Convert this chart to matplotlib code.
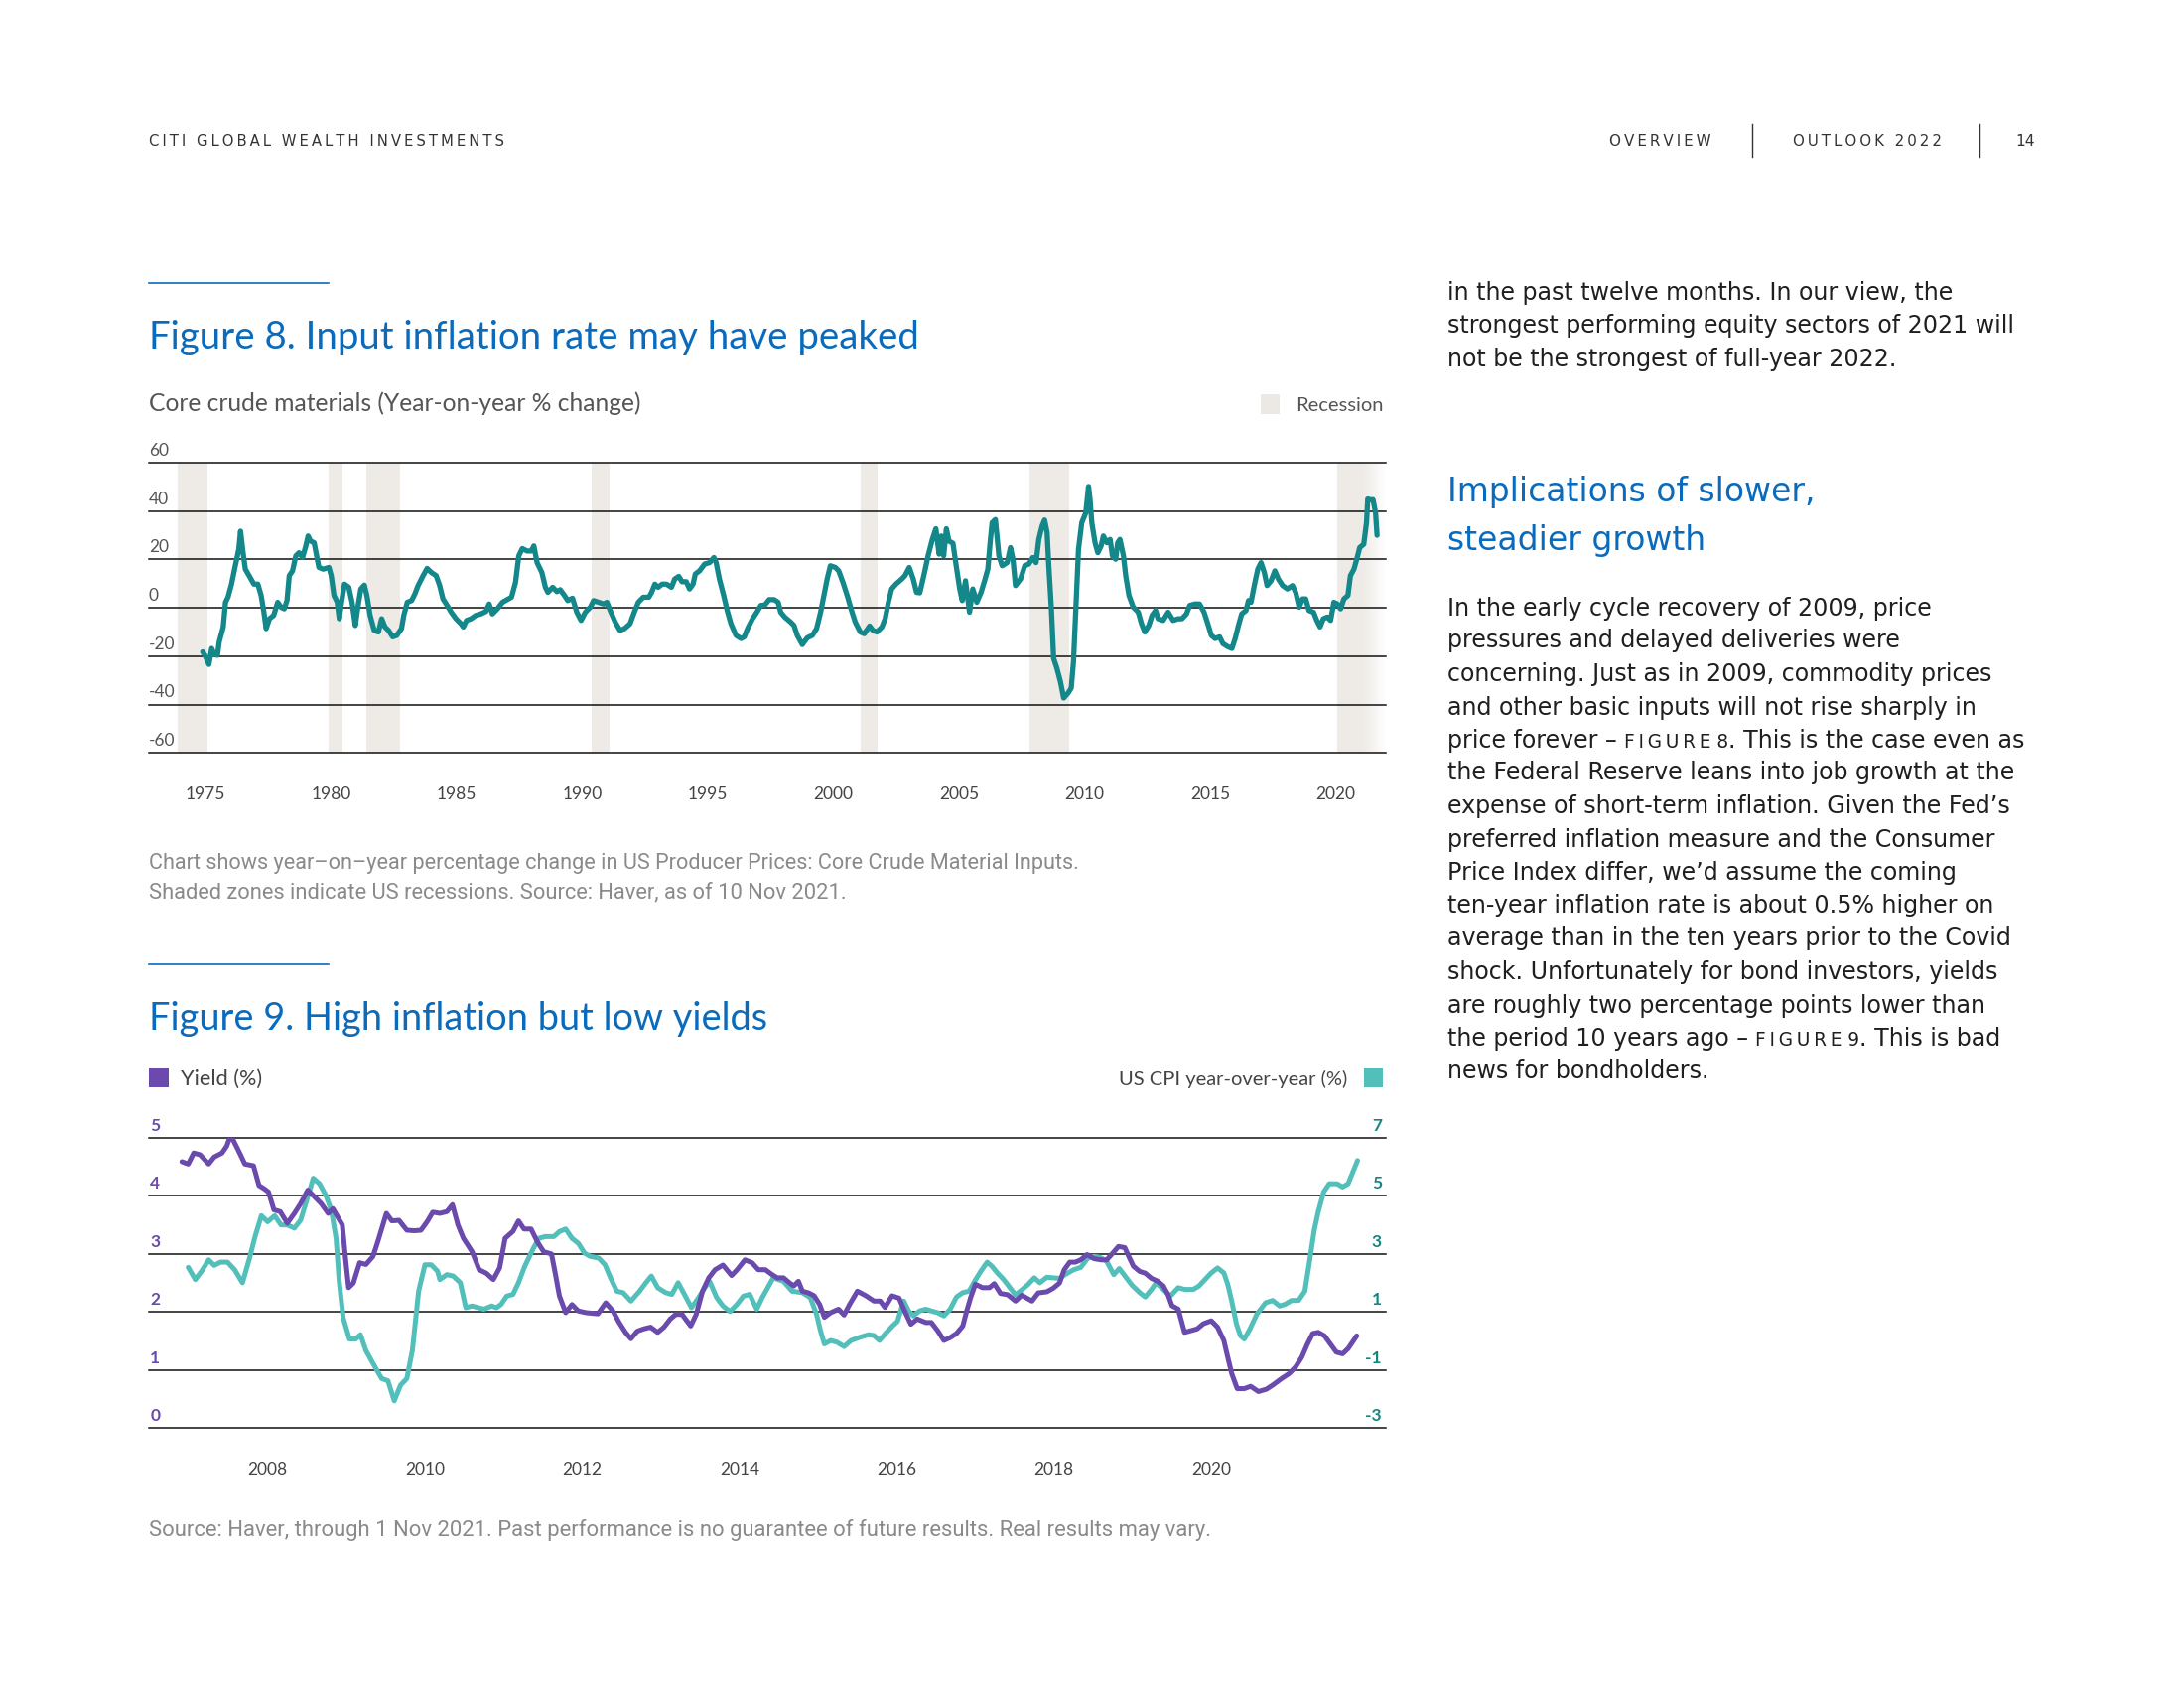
import matplotlib
matplotlib.use("Agg")
import matplotlib.pyplot as plt
from matplotlib.patches import Rectangle
from matplotlib.lines import Line2D
from matplotlib import font_manager

# ---------------- DATA ----------------
# Figure 8: Core crude materials, year-on-year % change
cc_years = [1974.88, 1974.97, 1975.13, 1975.24, 1975.34, 1975.47, 1975.54, 1975.70, 1975.79, 1975.89,
            1976.03, 1976.18, 1976.32, 1976.39, 1976.49, 1976.58, 1976.72, 1976.92, 1977.08, 1977.21,
            1977.32, 1977.41, 1977.54, 1977.71, 1977.87, 1978.00, 1978.13, 1978.24, 1978.33, 1978.46,
            1978.59, 1978.72, 1978.86, 1978.99, 1979.08, 1979.18, 1979.32, 1979.42, 1979.51, 1979.68,
            1979.91, 1980.00, 1980.11, 1980.24, 1980.32, 1980.41, 1980.53, 1980.70, 1980.83, 1980.96,
            1981.05, 1981.18, 1981.32, 1981.42, 1981.55, 1981.71, 1981.88, 1982.01, 1982.14, 1982.28,
            1982.45, 1982.61, 1982.80, 1982.89, 1983.03, 1983.20, 1983.33, 1983.46, 1983.66, 1983.82,
            1983.99, 1984.18, 1984.32, 1984.45, 1984.58, 1984.78, 1984.97, 1985.17, 1985.26, 1985.39,
            1985.57, 1985.76, 1985.96, 1986.16, 1986.29, 1986.42, 1986.62, 1986.82, 1987.01, 1987.18,
            1987.34, 1987.47, 1987.61, 1987.80, 1987.97, 1988.07, 1988.20, 1988.39, 1988.53, 1988.63,
            1988.82, 1988.99, 1989.12, 1989.29, 1989.42, 1989.61, 1989.78, 1989.95,
            1990.12, 1990.32, 1990.45, 1990.65, 1990.85, 1990.98, 1991.11, 1991.31, 1991.50, 1991.68,
            1991.90, 1992.07, 1992.23, 1992.43, 1992.65, 1992.76, 1992.89, 1993.02, 1993.18, 1993.35,
            1993.55, 1993.68, 1993.84, 1993.97, 1994.14, 1994.27, 1994.41, 1994.50, 1994.67, 1994.87,
            1995.07, 1995.24, 1995.33, 1995.46, 1995.63, 1995.77, 1995.92, 1996.12, 1996.32, 1996.45,
            1996.58, 1996.78, 1996.95, 1997.11, 1997.27, 1997.44, 1997.64, 1997.80, 1997.90, 1998.06,
            1998.30, 1998.43, 1998.56, 1998.76, 1998.96, 1999.16, 1999.33, 1999.49, 1999.62, 1999.75,
            1999.88, 2000.08, 2000.21, 2000.38, 2000.57, 2000.70, 2000.87, 2001.07, 2001.23, 2001.44,
            2001.57, 2001.73, 2001.93, 2002.06, 2002.19, 2002.32, 2002.49, 2002.72, 2002.85, 2003.02,
            2003.18, 2003.31, 2003.44, 2003.60, 2003.77, 2003.94, 2004.08, 2004.21, 2004.30, 2004.39,
            2004.50, 2004.60, 2004.76, 2004.89, 2005.03, 2005.13, 2005.26, 2005.42, 2005.55, 2005.71,
            2005.88, 2006.02, 2006.15, 2006.24, 2006.32, 2006.45,
            2006.59, 2006.72, 2006.92, 2007.05, 2007.15, 2007.25, 2007.45, 2007.62, 2007.78, 2007.94,
            2008.07, 2008.18, 2008.31, 2008.41, 2008.51, 2008.57, 2008.68, 2008.77, 2008.90, 2009.04,
            2009.17, 2009.34, 2009.47, 2009.56, 2009.66, 2009.76, 2009.89, 2010.05, 2010.16, 2010.22,
            2010.29, 2010.42, 2010.53, 2010.66, 2010.75, 2010.89, 2011.02, 2011.11, 2011.24, 2011.32,
            2011.41, 2011.55, 2011.64, 2011.77, 2011.94, 2012.14, 2012.27, 2012.40, 2012.56, 2012.69,
            2012.83, 2012.93, 2013.13, 2013.33, 2013.53, 2013.73, 2013.88, 2014.06, 2014.19, 2014.39,
            2014.58, 2014.76, 2014.91, 2015.05, 2015.20, 2015.38, 2015.51, 2015.71, 2015.87, 2016.00,
            2016.13, 2016.26, 2016.43, 2016.53, 2016.63, 2016.76, 2016.90, 2017.03, 2017.16, 2017.27,
            2017.43, 2017.58, 2017.72, 2017.89, 2018.08, 2018.28, 2018.41, 2018.55, 2018.68, 2018.81,
            2018.94, 2019.12, 2019.25, 2019.38, 2019.51, 2019.67, 2019.80, 2019.93, 2020.07, 2020.20,
            2020.33, 2020.49, 2020.59, 2020.73, 2020.86, 2020.96, 2021.12, 2021.23, 2021.28, 2021.38,
            2021.49, 2021.59, 2021.65]
cc_values = [-18.2, -19.6, -23.4, -16.8, -19.3, -19.6, -14.1, -7.9, 2.3, 4.4,
             9.8, 17.4, 24.2, 31.7, 22.8, 16.0, 13.5, 9.8, 9.8, 5.1,
             -1.8, -8.6, -4.5, -3.1, 2.3, 0.3, -0.4, 3.0, 13.3, 15.3,
             21.5, 22.8, 20.8, 25.6, 29.7, 27.6, 26.9, 21.5, 16.7, 16.0,
             16.7, 13.3, 5.1, 2.3, -4.5, 2.3, 9.8, 8.5, 2.3, -7.3,
             -0.4, 7.8, 9.4, 5.1, -3.1, -9.3, -10.0, -4.5, -7.9, -9.3,
             -12.0, -11.4, -8.6, -3.1, 2.3, 3.0, 5.7, 9.2, 13.3, 16.3,
             14.6, 13.3, 9.2, 3.7, 1.6, -1.8, -4.5, -6.6, -7.9, -5.2,
             -4.5, -3.1, -2.5, -1.5, 1.6, -2.5, -0.4, 2.3, 3.4, 4.4,
             10.5, 21.5, 24.5, 23.5, 23.5, 25.6, 18.7, 14.6, 8.5, 6.4,
             8.5, 6.7, 7.5, 5.1, 3.0, 4.0, -1.8, -5.2,
             -1.8, 0.3, 3.0, 2.3, 1.6, 2.3, -1.1, -5.9, -9.3, -8.6,
             -6.6, -1.8, 2.3, 4.4, 4.4, 6.4, 9.8, 8.5, 9.8, 9.8,
             8.5, 11.9, 13.0, 10.8, 10.8, 7.8, 9.8, 14.0, 15.3, 18.1,
             18.7, 20.8, 18.7, 11.9, 5.1, -1.1, -6.6, -11.4, -12.7, -12.0,
             -8.6, -4.5, -1.8, 1.0, 1.2, 3.4, 3.4, 2.3, -1.8, -3.8,
             -5.9, -7.3, -11.4, -15.2, -12.4, -11.4, -8.6, -1.8, 5.1, 11.9,
             17.4, 16.7, 15.3, 10.5, 4.4, -0.4, -5.9, -10.0, -10.7, -7.5,
             -9.3, -10.0, -7.9, -4.5, 2.3, 7.8, 9.8, 11.9, 13.3, 16.7,
             11.9, 6.4, 6.2, 13.3, 21.5, 28.3, 32.7, 22.2, 29.7, 21.5,
             32.7, 27.6, 26.7, 17.4, 7.8, 3.0, 11.2, -1.8, 7.8, 2.3,
             6.4, 11.2, 16.0, 26.9, 35.2, 36.5,
             21.5, 17.4, 18.7, 24.9, 20.1, 9.2, 11.9, 17.4, 18.1, 20.8,
             18.7, 28.3, 33.8, 36.3, 31.1, 18.7, -0.4, -20.9, -25.0, -30.5,
             -37.3, -35.3, -33.2, -22.3, 1.0, 24.2, 35.2, 39.3, 50.2, 44.7,
             35.2, 26.9, 22.8, 25.6, 29.7, 26.9, 28.3, 21.5, 20.1, 26.9,
             28.3, 21.5, 13.3, 5.1, 0.3, -1.8, -6.6, -10.0, -7.3, -3.1,
             -1.1, -4.5, -5.2, -1.8, -5.2, -4.5, -4.5, -2.5, 1.0, 1.6,
             1.6, -1.8, -6.6, -11.4, -12.7, -12.0, -14.8, -16.1, -16.8, -12.7,
             -7.3, -2.5, -1.1, 3.0, 2.3, 9.2, 16.0, 18.7, 14.6, 9.2,
             11.2, 15.3, 11.9, 9.2, 7.8, 9.2, 6.4, 0.3, 3.7, 3.7,
             -1.1, -1.8, -5.2, -7.9, -4.5, -3.8, -5.2, 2.3, 1.6, -0.4,
             3.7, 5.1, 13.3, 16.0, 20.8, 24.9, 26.3, 35.2, 45.0, 44.7,
             44.7, 39.3, 30.0]

recession_starts = [1973.89, 1979.88, 1981.38, 1990.38, 2001.07, 2007.81, 2020.07]
recession_ends = [1975.08, 1980.43, 1982.74, 1991.08, 2001.75, 2009.37, 2022.0]

fig8_xticks = [1975, 1980, 1985, 1990, 1995, 2000, 2005, 2010, 2015, 2020]
fig8_yticks = [-60, -40, -20, 0, 20, 40, 60]

# Figure 9: 10-year yield (%) and US CPI year-over-year (%)
yield_years = [2006.91, 2006.99, 2007.06, 2007.14, 2007.25, 2007.32, 2007.42, 2007.48, 2007.53, 2007.64,
               2007.71, 2007.82, 2007.89, 2007.95, 2008.01, 2008.08, 2008.16, 2008.25, 2008.34, 2008.42,
               2008.51, 2008.60, 2008.68, 2008.77, 2008.83, 2008.89, 2008.95, 2008.99, 2009.03, 2009.09,
               2009.17, 2009.25, 2009.34, 2009.40, 2009.51, 2009.58, 2009.67, 2009.77, 2009.87, 2009.95,
               2010.03, 2010.10, 2010.19, 2010.28, 2010.35, 2010.42, 2010.49, 2010.60, 2010.69, 2010.78,
               2010.87, 2010.95, 2011.02, 2011.12, 2011.19, 2011.26, 2011.35, 2011.43, 2011.51, 2011.61,
               2011.66, 2011.71, 2011.79, 2011.87, 2011.95, 2012.05, 2012.20, 2012.30, 2012.39, 2012.47,
               2012.55, 2012.62, 2012.70, 2012.78, 2012.87, 2012.96, 2013.04, 2013.12, 2013.19, 2013.27,
               2013.38, 2013.45, 2013.53, 2013.61, 2013.69, 2013.79, 2013.90, 2013.97, 2014.07, 2014.16,
               2014.24, 2014.33, 2014.41, 2014.48, 2014.56, 2014.64, 2014.69, 2014.75, 2014.80, 2014.88,
               2014.95, 2015.02, 2015.08, 2015.16, 2015.26, 2015.33, 2015.40, 2015.50, 2015.61, 2015.71,
               2015.79, 2015.85, 2015.94, 2016.03, 2016.10, 2016.18, 2016.26, 2016.37, 2016.44, 2016.52,
               2016.60, 2016.68, 2016.76, 2016.84, 2016.89, 2016.94, 2017.00, 2017.09, 2017.18, 2017.24,
               2017.32, 2017.41, 2017.51, 2017.59, 2017.72, 2017.80, 2017.91, 2017.99, 2018.07, 2018.13,
               2018.20, 2018.27, 2018.34, 2018.42, 2018.51, 2018.60, 2018.67, 2018.75, 2018.82, 2018.90,
               2018.95, 2019.01, 2019.09, 2019.16, 2019.24, 2019.32, 2019.39, 2019.45, 2019.50, 2019.58,
               2019.66, 2019.74, 2019.82, 2019.90, 2020.00, 2020.08, 2020.16, 2020.21, 2020.26, 2020.33,
               2020.42, 2020.50, 2020.60, 2020.70, 2020.78, 2020.89, 2020.99, 2021.07, 2021.15, 2021.22,
               2021.29, 2021.36, 2021.44, 2021.52, 2021.59, 2021.67, 2021.74, 2021.85]
yield_values = [4.59, 4.55, 4.74, 4.71, 4.55, 4.67, 4.74, 4.86, 5.05, 4.75,
                4.55, 4.52, 4.18, 4.13, 4.07, 3.76, 3.73, 3.53, 3.70, 3.87,
                4.10, 3.98, 3.87, 3.70, 3.78, 3.64, 3.50, 2.93, 2.42, 2.50,
                2.85, 2.82, 2.96, 3.21, 3.70, 3.57, 3.58, 3.41, 3.40, 3.41,
                3.56, 3.72, 3.70, 3.73, 3.85, 3.50, 3.27, 3.04, 2.73, 2.67,
                2.56, 2.76, 3.27, 3.39, 3.57, 3.43, 3.43, 3.21, 3.04, 3.00,
                2.65, 2.28, 1.99, 2.13, 2.02, 1.99, 1.97, 2.16, 2.02, 1.82,
                1.65, 1.54, 1.67, 1.71, 1.74, 1.65, 1.74, 1.88, 1.96, 1.96,
                1.76, 1.96, 2.36, 2.59, 2.73, 2.81, 2.63, 2.73, 2.90, 2.85,
                2.73, 2.73, 2.65, 2.59, 2.59, 2.50, 2.45, 2.53, 2.36, 2.33,
                2.28, 2.13, 1.91, 1.99, 2.05, 1.95, 2.13, 2.36, 2.28, 2.19,
                2.19, 2.08, 2.28, 2.24, 2.02, 1.79, 1.88, 1.82, 1.82, 1.68,
                1.51, 1.56, 1.63, 1.76, 2.02, 2.25, 2.48, 2.42, 2.42, 2.49,
                2.32, 2.30, 2.19, 2.29, 2.19, 2.33, 2.35, 2.41, 2.50, 2.73,
                2.86, 2.86, 2.90, 2.99, 2.92, 2.90, 2.90, 3.02, 3.13, 3.11,
                2.96, 2.79, 2.70, 2.67, 2.58, 2.53, 2.45, 2.30, 2.11, 2.05,
                1.65, 1.68, 1.71, 1.80, 1.85, 1.74, 1.51, 1.22, 0.94, 0.68,
                0.68, 0.72, 0.63, 0.67, 0.74, 0.85, 0.94, 1.05, 1.22, 1.44,
                1.63, 1.65, 1.59, 1.44, 1.31, 1.28, 1.37, 1.59]

cpi_years = [2006.99, 2007.08, 2007.16, 2007.25, 2007.32, 2007.40, 2007.49, 2007.58, 2007.68, 2007.77,
             2007.84, 2007.92, 2008.00, 2008.09, 2008.17, 2008.25, 2008.34, 2008.42, 2008.51, 2008.58,
             2008.66, 2008.74, 2008.81, 2008.87, 2008.91, 2008.96, 2009.04, 2009.12, 2009.18, 2009.25,
             2009.32, 2009.39, 2009.45, 2009.53, 2009.61, 2009.69, 2009.77, 2009.84, 2009.92, 2010.00,
             2010.08, 2010.16, 2010.19, 2010.28, 2010.36, 2010.45, 2010.52, 2010.60, 2010.68, 2010.75,
             2010.85, 2010.91, 2010.97, 2011.04, 2011.12, 2011.19, 2011.27, 2011.38, 2011.45, 2011.53,
             2011.64, 2011.71, 2011.79, 2011.87, 2011.95, 2012.03, 2012.10, 2012.21, 2012.29, 2012.36,
             2012.44, 2012.52, 2012.62, 2012.73, 2012.81, 2012.88, 2012.96, 2013.06, 2013.14, 2013.22,
             2013.30, 2013.39, 2013.48, 2013.56, 2013.62, 2013.71, 2013.79, 2013.88, 2013.97, 2014.05,
             2014.13, 2014.22, 2014.29, 2014.43, 2014.56, 2014.67, 2014.80, 2014.90, 2014.98, 2015.03,
             2015.08, 2015.16, 2015.24, 2015.33, 2015.42, 2015.53, 2015.64, 2015.71, 2015.78, 2015.87,
             2015.95, 2016.01, 2016.05, 2016.09, 2016.15, 2016.21, 2016.29, 2016.37, 2016.44, 2016.52,
             2016.60, 2016.68, 2016.76, 2016.84, 2016.92, 2016.99, 2017.07, 2017.15, 2017.21, 2017.28,
             2017.36, 2017.44, 2017.51, 2017.57, 2017.67, 2017.75, 2017.82, 2017.91, 2017.99, 2018.07,
             2018.14, 2018.25, 2018.34, 2018.43, 2018.51, 2018.59, 2018.67, 2018.76, 2018.83, 2018.92,
             2018.99, 2019.09, 2019.16, 2019.24, 2019.30, 2019.39, 2019.48, 2019.58, 2019.66, 2019.77,
             2019.84, 2019.92, 2020.00, 2020.08, 2020.16, 2020.21, 2020.26, 2020.32, 2020.37, 2020.42,
             2020.49, 2020.58, 2020.69, 2020.78, 2020.87, 2020.94, 2021.02, 2021.11, 2021.19, 2021.25,
             2021.31, 2021.36, 2021.43, 2021.50, 2021.60, 2021.67, 2021.74, 2021.80, 2021.86]
cpi_values = [2.54, 2.12, 2.41, 2.80, 2.61, 2.72, 2.72, 2.46, 2.01, 2.86,
              3.60, 4.32, 4.11, 4.32, 4.00, 4.00, 3.89, 4.17, 4.97, 5.61,
              5.42, 5.02, 4.51, 3.54, 2.06, 0.81, 0.07, 0.07, 0.22, -0.33,
              -0.67, -1.01, -1.29, -1.37, -2.06, -1.52, -1.29, -0.33, 1.72, 2.63,
              2.63, 2.41, 2.12, 2.29, 2.24, 2.01, 1.15, 1.21, 1.15, 1.10,
              1.21, 1.15, 1.27, 1.55, 1.61, 2.01, 2.58, 3.20, 3.54, 3.60,
              3.60, 3.77, 3.86, 3.54, 3.37, 3.03, 2.92, 2.86, 2.63, 2.18,
              1.72, 1.67, 1.38, 1.72, 2.01, 2.24, 1.84, 1.67, 1.61, 2.01,
              1.61, 1.15, 1.50, 1.84, 2.06, 1.50, 1.21, 1.02, 1.27, 1.55,
              1.61, 1.10, 1.50, 2.18, 2.06, 1.72, 1.67, 1.50, 0.93, 0.36,
              -0.10, 0.02, -0.04, -0.19, 0.02, 0.13, 0.22, 0.19, 0.02, 0.30,
              0.53, 0.68, 1.04, 1.38, 1.04, 0.87, 1.04, 1.10, 1.04, 0.98,
              0.87, 1.10, 1.52, 1.67, 1.72, 2.06, 2.41, 2.72, 2.58, 2.35,
              2.12, 1.84, 1.59, 1.72, 1.95, 2.18, 2.01, 2.20, 2.18, 2.16,
              2.29, 2.46, 2.54, 2.86, 2.92, 2.88, 2.75, 2.29, 2.50, 2.18,
              1.93, 1.67, 1.52, 1.78, 2.01, 1.78, 1.55, 1.84, 1.78, 1.78,
              1.89, 2.12, 2.35, 2.52, 2.35, 1.95, 1.38, 0.59, 0.19, 0.07,
              0.41, 0.93, 1.32, 1.40, 1.21, 1.27, 1.40, 1.40, 1.72, 2.75,
              3.83, 4.45, 5.14, 5.42, 5.42, 5.31, 5.42, 5.82, 6.22]

fig9_xticks = [2008, 2010, 2012, 2014, 2016, 2018, 2020]
yield_ticks = [0, 1, 2, 3, 4, 5]
cpi_ticks = [-3, -1, 1, 3, 5, 7]

# ---------------- STYLE ----------------
avail = {f.name for f in font_manager.fontManager.ttflist}


def pick(*names):
    for n in names:
        if n in avail:
            return n
    return "DejaVu Sans"


TITLE_FONT = pick("Lato", "Open Sans")
LABEL_FONT = pick("Lato", "Open Sans")
NARROW_FONT = pick("Liberation Sans Narrow", "Roboto", "Lato")
BODY_FONT = "DejaVu Sans"

BLUE = "#0a6bbd"
TEAL = "#13878a"
PURPLE = "#6a4aad"
CPI_COL = "#52bfba"
RIGHT_LAB = "#16857f"
REC_COL = "#eeeae5"
GRID_COL = "#111111"

W, H = 2200, 1700
DW, DH = 1568.0, 1212.0   # reference layout units


def fx(X):
    return X / DW


def fy(Y):
    return 1 - Y / DH


fig = plt.figure(figsize=(22, 17), dpi=100)
fig.patch.set_facecolor("white")
renderer = fig.canvas.get_renderer()
fits = []


def put(X, Y, s, R=None, **kw):
    t = fig.text(fx(X), fy(Y), s, **kw)
    if R is not None:
        fits.append((t, (R - X) * W / DW))
    return t


def hline_fig(x0, x1, y, color, lw):
    fig.add_artist(Line2D([fx(x0), fx(x1)], [fy(y), fy(y)], color=color, lw=lw,
                          transform=fig.transFigure))


def vline_fig(x, y0, y1, color, lw):
    fig.add_artist(Line2D([fx(x), fx(x)], [fy(y0), fy(y1)], color=color, lw=lw,
                          transform=fig.transFigure))


def rect_fig(x0, y0, x1, y1, color):
    fig.add_artist(Rectangle((fx(x0), fy(y1)), fx(x1) - fx(x0), fy(y0) - fy(y1),
                             color=color, lw=0, transform=fig.transFigure))


# ---------------- HEADER ----------------
spaced = lambda s: "\u2009".join(s)
put(107, 105, spaced("CITI GLOBAL WEALTH INVESTMENTS"), R=361, fontsize=10,
    family=BODY_FONT, color="#333333", va="baseline")
put(1155, 105, spaced("OVERVIEW"), R=1228, fontsize=10, family=BODY_FONT, color="#333333", va="baseline")
put(1287, 105, spaced("OUTLOOK 2022"), R=1393, fontsize=10, family=BODY_FONT, color="#333333", va="baseline")
put(1447, 105, "14", R=1461, fontsize=10, family=BODY_FONT, color="#333333", va="baseline")
vline_fig(1258, 89, 113, "#333333", 1.0)
vline_fig(1421, 89, 113, "#333333", 1.0)

# ---------------- FIGURE 8 ----------------
hline_fig(107, 236, 203, BLUE, 1.2)
put(107, 250, "Figure 8. Input inflation rate may have peaked", R=659, fontsize=24,
    family=TITLE_FONT, color=BLUE, va="baseline")
put(107, 295, "Core crude materials (Year-on-year % change)", R=462, fontsize=15,
    family=LABEL_FONT, color="#555555", va="baseline")
rect_fig(905, 283, 919, 297, "#ece8e3")
put(930, 295, "Recession", R=993, fontsize=13, family=LABEL_FONT, color="#555555", va="baseline")

ax1 = fig.add_axes([150 / W, 1 - 758.3 / H, (1396 - 150) / W, (758.3 - 466) / H])
ax1.set_xlim(1972.74, 2022.0)
ax1.set_ylim(-60, 60)
for sp in ax1.spines.values():
    sp.set_visible(False)
ax1.set_yticks([])
ax1.set_facecolor("none")
for v in fig8_yticks:
    ax1.axhline(v, color=GRID_COL, lw=1.1, zorder=1, clip_on=False)
    ax1.annotate(str(v), xy=(0, v), xycoords=("axes fraction", "data"), xytext=(0, 3),
                 textcoords="offset points", ha="left", va="bottom", fontsize=12.5,
                 family=LABEL_FONT, color="#555555", annotation_clip=False)
for a, b in zip(recession_starts[:-1], recession_ends[:-1]):
    ax1.axvspan(a, b, color=REC_COL, lw=0, zorder=0)
# last (ongoing) recession: solid then fading toward the right edge
a, b = recession_starts[-1], recession_ends[-1]
mid = a + 0.5 * (b - a)
ax1.axvspan(a, mid, color=REC_COL, lw=0, zorder=0)
nfade = 24
for i in range(nfade):
    x0 = mid + (b - mid) * i / nfade
    x1 = mid + (b - mid) * (i + 1) / nfade
    ax1.axvspan(x0, x1, color=REC_COL, alpha=1 - (i + 0.5) / nfade, lw=0, zorder=0)
ax1.plot(cc_years, cc_values, color=TEAL, lw=3.8, solid_joinstyle="round",
         solid_capstyle="round", zorder=3)
ax1.set_xticks(fig8_xticks)
ax1.set_xticklabels([str(v) for v in fig8_xticks], family=LABEL_FONT)
ax1.tick_params(axis="x", length=0, pad=24, labelsize=12.5, labelcolor="#444444")

put(107, 624, "Chart shows year\u2013on\u2013year percentage change in US Producer Prices: Core Crude Material Inputs.",
    R=778, fontsize=14, family=NARROW_FONT, color="#8a8a8a", va="baseline")
put(107, 645, "Shaded zones indicate US recessions. Source: Haver, as of 10 Nov 2021.",
    R=612, fontsize=14, family=NARROW_FONT, color="#8a8a8a", va="baseline")

# ---------------- FIGURE 9 ----------------
hline_fig(107, 236, 692, BLUE, 1.2)
put(107, 739, "Figure 9. High inflation but low yields", R=551, fontsize=24,
    family=TITLE_FONT, color=BLUE, va="baseline")
rect_fig(107, 767, 121, 781, PURPLE)
put(130, 779, "Yield (%)", R=188, fontsize=12, family=LABEL_FONT, color="#444444", va="baseline")
put(803, 779, "US CPI year-over-year (%)", R=967, fontsize=12, family=LABEL_FONT,
    color="#444444", va="baseline")
rect_fig(979, 767, 993, 781, CPI_COL)

ax2 = fig.add_axes([150 / W, 1 - 1438.3 / H, (1396 - 150) / W, (1438.3 - 1146) / H])
ax3 = ax2.twinx()
ax2.set_xlim(2006.49, 2022.22)
ax2.set_ylim(0, 5)
ax3.set_ylim(-3, 7)
for axx in (ax2, ax3):
    for sp in axx.spines.values():
        sp.set_visible(False)
    axx.set_yticks([])
    axx.patch.set_visible(False)
ax2.set_zorder(ax3.get_zorder() + 1)
for v in cpi_ticks:
    ax3.axhline(v, color=GRID_COL, lw=1.1, zorder=1, clip_on=False)
    ax3.annotate(str(v), xy=(1, v), xycoords=("axes fraction", "data"), xytext=(-3, 3),
                 textcoords="offset points", ha="right", va="bottom", fontsize=12.5,
                 fontweight="bold", family=LABEL_FONT, color=RIGHT_LAB, annotation_clip=False)
for v in yield_ticks:
    ax2.annotate(str(v), xy=(0, v), xycoords=("axes fraction", "data"), xytext=(1, 3),
                 textcoords="offset points", ha="left", va="bottom", fontsize=12.5,
                 fontweight="bold", family=LABEL_FONT, color=PURPLE, annotation_clip=False)
ax3.plot(cpi_years, cpi_values, color=CPI_COL, lw=3.6, solid_joinstyle="round",
         solid_capstyle="round", zorder=3)
ax2.plot(yield_years, yield_values, color=PURPLE, lw=3.6, solid_joinstyle="round",
         solid_capstyle="round", zorder=4)
ax2.set_xticks(fig9_xticks)
ax2.set_xticklabels([str(v) for v in fig9_xticks], family=LABEL_FONT)
ax2.tick_params(axis="x", length=0, pad=24, labelsize=12.5, labelcolor="#444444")

put(107, 1103, "Source: Haver, through 1 Nov 2021. Past performance is no guarantee of future results. Real results may vary.",
    R=875, fontsize=14, family=NARROW_FONT, color="#8a8a8a", va="baseline")

# ---------------- RIGHT COLUMN ----------------
put(1039, 360, "Implications of slower,", R=1303, fontsize=22, family=BODY_FONT,
    color=BLUE, va="baseline")

# fit all single texts
for t, tw in fits:
    w = t.get_window_extent(renderer).width
    t.set_fontsize(t.get_fontsize() * tw / w)

head_fs = fits[-1][0].get_fontsize()
put(1039, 395, "steadier growth", fontsize=head_fs, family=BODY_FONT, color=BLUE, va="baseline")

# body font size from a reference line
probe = fig.text(0, 0, "concerning. Just as in 2009, commodity prices", fontsize=14, family=BODY_FONT)
body_fs = 14 * ((1432 - 1039) * W / DW) / probe.get_window_extent(renderer).width
probe.remove()
p1 = fig.text(0, 0, "a a", fontsize=body_fs, family=BODY_FONT)
p2 = fig.text(0, 0, "aa", fontsize=body_fs, family=BODY_FONT)
space_w = p1.get_window_extent(renderer).width - p2.get_window_extent(renderer).width
p1.remove()
p2.remove()

BODY_COL = "#1f1f1f"


def body_line(Y, segs):
    x = 1039 * W / DW
    for text, factor, gap in segs:
        if gap:
            x += space_w
        t = fig.text(x / W, fy(Y), text, fontsize=body_fs * factor, family=BODY_FONT,
                     color=BODY_COL, va="baseline")
        x += t.get_window_extent(renderer).width


top_lines = [(215, "in the past twelve months. In our view, the"),
             (239, "strongest performing equity sectors of 2021 will"),
             (263, "not be the strongest of full-year 2022.")]
for Y, s in top_lines:
    body_line(Y, [(s, 1.0, False)])

para = [(442, [("In the early cycle recovery of 2009, price", 1.0, False)]),
        (465, [("pressures and delayed deliveries were", 1.0, False)]),
        (489, [("concerning. Just as in 2009, commodity prices", 1.0, False)]),
        (513, [("and other basic inputs will not rise sharply in", 1.0, False)]),
        (537, [("price forever \u2013", 1.0, False), ("F\u2009I\u2009G\u2009U\u2009R\u2009E 8", 0.78, True),
               (". This is the case even as", 1.0, False)]),
        (560, [("the Federal Reserve leans into job growth at the", 1.0, False)]),
        (584, [("expense of short-term inflation. Given the Fed\u2019s", 1.0, False)]),
        (608, [("preferred inflation measure and the Consumer", 1.0, False)]),
        (632, [("Price Index differ, we\u2019d assume the coming", 1.0, False)]),
        (655, [("ten-year inflation rate is about 0.5% higher on", 1.0, False)]),
        (679, [("average than in the ten years prior to the Covid", 1.0, False)]),
        (703, [("shock. Unfortunately for bond investors, yields", 1.0, False)]),
        (727, [("are roughly two percentage points lower than", 1.0, False)]),
        (751, [("the period 10 years ago \u2013", 1.0, False), ("F\u2009I\u2009G\u2009U\u2009R\u2009E 9", 0.78, True),
               (". This is bad", 1.0, False)]),
        (774, [("news for bondholders.", 1.0, False)])]
for Y, segs in para:
    body_line(Y, segs)

fig.savefig("out.png", dpi=100, facecolor="white")
